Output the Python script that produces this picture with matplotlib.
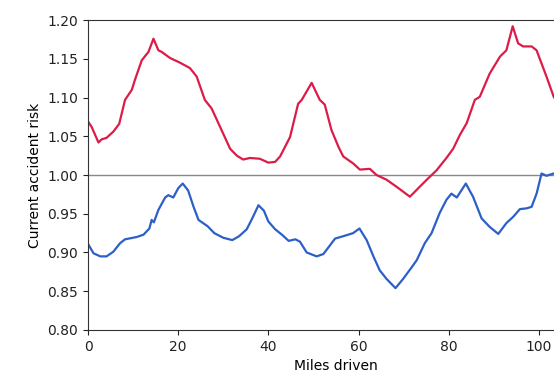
import numpy as np
import matplotlib
matplotlib.use("Agg")
import matplotlib.pyplot as plt


# Data
red_x = [0, 0.8, 2.3, 3.0, 4.1, 5.6, 6.9, 8.2, 9.7, 10.4, 11.9, 13.4, 14.5, 15.6,
         16.3, 18.2, 20.4, 22.6, 24.1, 25.9, 27.4, 29.3, 31.5, 33.0, 34.4, 35.9,
         38.1, 40.0, 41.5, 42.6, 44.8, 46.6, 47.4, 49.6, 51.4, 52.5, 54.0, 55.5,
         56.6, 58.8, 60.3, 62.5, 64.0, 66.2, 68.4, 71.4, 73.6, 75.5, 77.3, 79.5,
         81.0, 82.5, 84.0, 85.8, 86.9, 89.1, 91.4, 92.8, 94.2, 95.4, 96.5, 98.4,
         99.5, 101.7, 103.3, 105.0]
red_y = [1.069, 1.062, 1.042, 1.046, 1.048, 1.056, 1.066, 1.097, 1.110, 1.123,
         1.148, 1.159, 1.176, 1.161, 1.159, 1.151, 1.145, 1.138, 1.127, 1.097,
         1.086, 1.062, 1.034, 1.025, 1.020, 1.022, 1.021, 1.016, 1.017, 1.024,
         1.049, 1.092, 1.097, 1.119, 1.097, 1.091, 1.058, 1.037, 1.024, 1.015,
         1.007, 1.008, 1.000, 0.994, 0.985, 0.972, 0.985, 0.996, 1.006, 1.022,
         1.034, 1.052, 1.067, 1.097, 1.101, 1.131, 1.153, 1.161, 1.192, 1.170,
         1.166, 1.166, 1.161, 1.127, 1.101, 1.085]

blue_x = [0, 1.2, 2.7, 4.1, 5.6, 7.1, 8.2, 10.8, 12.3, 13.6, 14.1, 14.6, 15.6,
          17.1, 17.8, 18.9, 20.0, 21.0, 22.2, 23.4, 24.5, 26.5, 28.0, 30.0,
          32.0, 33.5, 35.2, 36.5, 37.8, 39.0, 40.0, 41.5, 43.0, 44.5, 46.0,
          47.0, 48.5, 50.7, 52.2, 54.8, 56.6, 58.8, 60.2, 61.8, 63.3, 64.7,
          66.2, 68.2, 69.9, 71.8, 72.9, 74.7, 76.2, 78.0, 79.5, 80.6, 81.8,
          83.8, 85.4, 87.3, 89.1, 91.0, 92.8, 94.3, 95.8, 97.3, 98.4, 99.5,
          100.6, 101.7, 103.3, 105.0]
blue_y = [0.911, 0.899, 0.895, 0.895, 0.901, 0.912, 0.917, 0.920, 0.923, 0.931,
          0.942, 0.939, 0.955, 0.971, 0.974, 0.971, 0.983, 0.989, 0.980, 0.959,
          0.942, 0.934, 0.925, 0.919, 0.916, 0.921, 0.930, 0.945, 0.961, 0.954,
          0.940, 0.930, 0.923, 0.915, 0.917, 0.914, 0.900, 0.895, 0.898, 0.918,
          0.921, 0.925, 0.931, 0.916, 0.895, 0.877, 0.866, 0.854, 0.866, 0.881,
          0.890, 0.912, 0.925, 0.951, 0.968, 0.976, 0.971, 0.989, 0.972, 0.944,
          0.933, 0.924, 0.938, 0.946, 0.956, 0.957, 0.959, 0.976, 1.002, 0.999,
          1.002, 1.003]

x_ticks = [0, 20, 40, 60, 80, 100]
y_ticks = [0.80, 0.85, 0.90, 0.95, 1.00, 1.05, 1.10, 1.15, 1.20]


# Figure (axes runs past the right edge, like the cropped original)
fig = plt.figure(figsize=(5.54, 3.72), dpi=100)
ax = fig.add_axes([0.159, 0.113, 0.895, 0.833])

ax.axhline(1.0, color="#888888", linewidth=1.0)
ax.plot(red_x, red_y, color="#dc1c48", linewidth=1.6)
ax.plot(blue_x, blue_y, color="#2c5fc8", linewidth=1.6)

ax.set_xlim(0, 110)
ax.set_ylim(0.80, 1.20)
ax.set_xticks(x_ticks)
ax.set_yticks(y_ticks)
ax.set_yticklabels([f"{v:.2f}" for v in y_ticks])
ax.tick_params(labelsize=10, colors="#222222")
ax.set_xlabel("Miles driven", fontsize=10)
ax.set_ylabel("Current accident risk", fontsize=10)

for s in ax.spines.values():
    s.set_color("#333333")

fig.savefig("out.png", dpi=100)
